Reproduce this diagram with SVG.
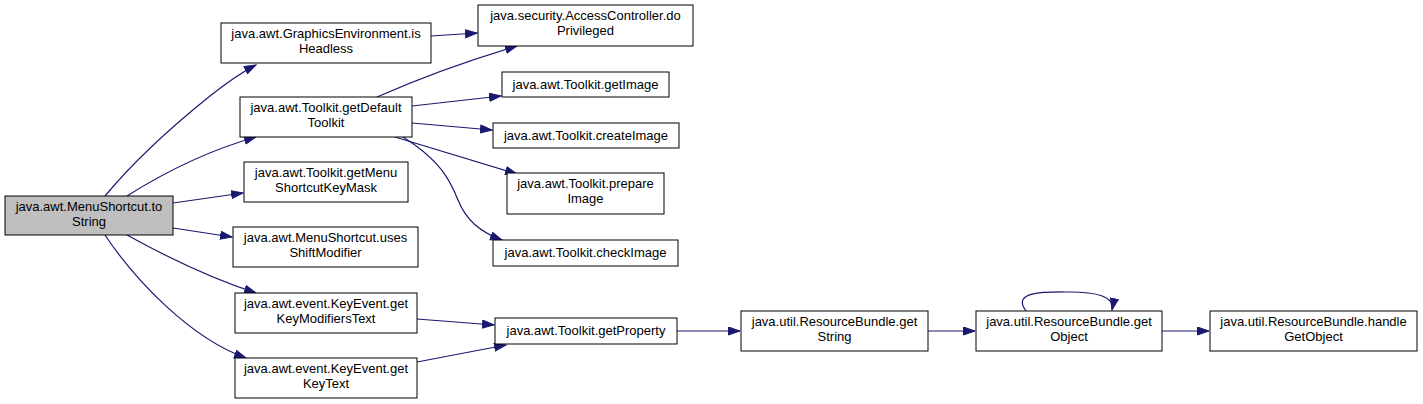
<svg xmlns="http://www.w3.org/2000/svg" width="1423" height="404" viewBox="0 0 1423 404">
<style>
.n rect{fill:#fff;stroke:#000;stroke-width:1}
.n.root rect{fill:#bfbfbf}
.n text{font-family:"Liberation Sans",Arial,sans-serif;font-size:13px;text-anchor:middle;fill:#000}
#edges path{fill:none;stroke:#191970;stroke-width:1.2}
</style>
<defs>
<marker id="ah" markerWidth="14" markerHeight="10" refX="12" refY="4.5" orient="auto" markerUnits="userSpaceOnUse">
<path d="M0.5,0.5 L12,4.5 L0.5,8.5 z" fill="#191970" stroke="#191970" stroke-width="1"/>
</marker>
</defs>
<rect width="1423" height="404" fill="#fff"/>
<g id="edges">
<path d="M105,196 C135,160 175,124 210,96 C225,84 240,73 256,65" marker-end="url(#ah)"/>
<path d="M127,196 C165,172 210,150 256,137" marker-end="url(#ah)"/>
<path d="M173,203 L243,193" marker-end="url(#ah)"/>
<path d="M173,228 L232,237" marker-end="url(#ah)"/>
<path d="M127,235 C165,256 210,278 256,293" marker-end="url(#ah)"/>
<path d="M105,235 C135,280 190,338 246,358" marker-end="url(#ah)"/>
<path d="M431,36 L477,33" marker-end="url(#ah)"/>
<path d="M377,97 C420,78 470,60 517,46" marker-end="url(#ah)"/>
<path d="M412,106 L501,96" marker-end="url(#ah)"/>
<path d="M412,123 L492,130" marker-end="url(#ah)"/>
<path d="M395,137 L517,174" marker-end="url(#ah)"/>
<path d="M403,137 C440,160 450,180 458,200 C466,220 480,232 502,240" marker-end="url(#ah)"/>
<path d="M417,319 L494,325" marker-end="url(#ah)"/>
<path d="M417,362 L506,345" marker-end="url(#ah)"/>
<path d="M677,331 L740,331" marker-end="url(#ah)"/>
<path d="M928,331 L975,331" marker-end="url(#ah)"/>
<path d="M1026,311 C1010,290 1050,292 1070,292 C1095,292 1115,296 1112,310" marker-end="url(#ah)"/>
<path d="M1162,331 L1209,331" marker-end="url(#ah)"/>
</g>
<g id="n_root" class="n root"><rect x="5" y="196" width="168" height="39"/><text x="89" y="211">java.awt.MenuShortcut.to</text><text x="89" y="226">String</text></g>
<g id="n_isHeadless" class="n"><rect x="221" y="23" width="210" height="40"/><text x="326" y="38">java.awt.GraphicsEnvironment.is</text><text x="326" y="53">Headless</text></g>
<g id="n_getDefaultToolkit" class="n"><rect x="240" y="97" width="172" height="40"/><text x="326" y="112">java.awt.Toolkit.getDefault</text><text x="326" y="127">Toolkit</text></g>
<g id="n_getMenuShortcutKeyMask" class="n"><rect x="244" y="162" width="164" height="40"/><text x="326" y="177">java.awt.Toolkit.getMenu</text><text x="326" y="192">ShortcutKeyMask</text></g>
<g id="n_usesShiftModifier" class="n"><rect x="233" y="227" width="185" height="40"/><text x="325.5" y="242">java.awt.MenuShortcut.uses</text><text x="325.5" y="257">ShiftModifier</text></g>
<g id="n_getKeyModifiersText" class="n"><rect x="235" y="293" width="182" height="40"/><text x="326" y="308">java.awt.event.KeyEvent.get</text><text x="326" y="323">KeyModifiersText</text></g>
<g id="n_getKeyText" class="n"><rect x="235" y="358" width="182" height="40"/><text x="326" y="373">java.awt.event.KeyEvent.get</text><text x="326" y="388">KeyText</text></g>
<g id="n_doPrivileged" class="n"><rect x="478" y="5" width="215" height="41"/><text x="585.5" y="20">java.security.AccessController.do</text><text x="585.5" y="35">Privileged</text></g>
<g id="n_getImage" class="n"><rect x="502" y="72" width="167" height="25"/><text x="585.5" y="89">java.awt.Toolkit.getImage</text></g>
<g id="n_createImage" class="n"><rect x="493" y="123" width="186" height="25"/><text x="586" y="140">java.awt.Toolkit.createImage</text></g>
<g id="n_prepareImage" class="n"><rect x="507" y="173" width="157" height="41"/><text x="585.5" y="188">java.awt.Toolkit.prepare</text><text x="585.5" y="203">Image</text></g>
<g id="n_checkImage" class="n"><rect x="493" y="240" width="185" height="26"/><text x="585.5" y="257">java.awt.Toolkit.checkImage</text></g>
<g id="n_getProperty" class="n"><rect x="495" y="318" width="182" height="26"/><text x="586" y="335">java.awt.Toolkit.getProperty</text></g>
<g id="n_getString" class="n"><rect x="741" y="311" width="187" height="40"/><text x="834.5" y="326">java.util.ResourceBundle.get</text><text x="834.5" y="341">String</text></g>
<g id="n_getObject" class="n"><rect x="976" y="311" width="186" height="40"/><text x="1069" y="326">java.util.ResourceBundle.get</text><text x="1069" y="341">Object</text></g>
<g id="n_handleGetObject" class="n"><rect x="1210" y="311" width="207" height="40"/><text x="1313.5" y="326">java.util.ResourceBundle.handle</text><text x="1313.5" y="341">GetObject</text></g>
</svg>
